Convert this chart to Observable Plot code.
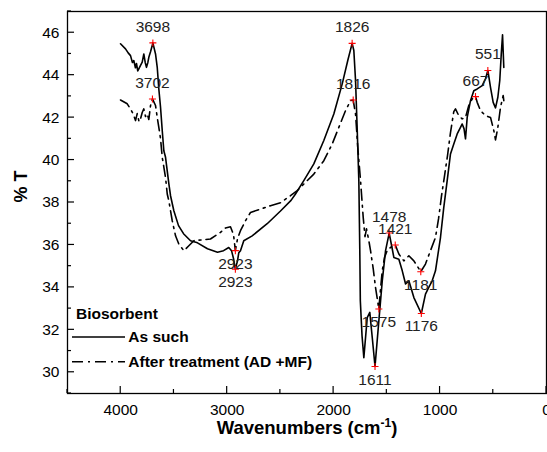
<!DOCTYPE html>
<html><head><meta charset="utf-8">
<script src="https://cdn.jsdelivr.net/npm/d3@7"></script>
<script src="https://cdn.jsdelivr.net/npm/@observablehq/plot@0.6"></script>
<style>
body{margin:0;background:#fff;}
#chart{position:relative;width:547px;height:452px;overflow:hidden;}
</style></head><body><div id="chart"></div>
<script>
// "As such" biosorbent spectrum (wavenumber cm-1, %T)
const wnAsSuch = [4002,3955,3930,3908,3890,3877,3862,3852,3840,3830,3815,3798,3783,3770,3758,3745,3736,3720,3704,3698,3673,3657,3642,3626,3610,3595,3579,3548,3532,3501,3457,3410,3344,3279,3185,3091,3034,2985,2959,2940,2923,2903,2891,2875,2844,2765,2624,2499,2400,2358,2280,2186,2092,1998,1919,1867,1826,1810,1794,1778,1763,1754,1749,1733,1716,1684,1660,1637,1611,1575,1543,1512,1478,1449,1434,1387,1355,1324,1293,1246,1176,1137,1106,1074,1043,996,965,933,902,871,839,808,792,775,761,745,714,683,651,604,573,551,526,501,479,457,439,425,413,401];
const tAsSuch = [45.48,45.24,45.05,44.92,44.60,44.69,44.35,44.55,44.20,44.30,44.45,44.61,45.0,44.6,44.37,44.6,44.84,45.1,45.40,45.52,45.0,44.37,43.35,42.49,41.39,40.44,40.13,38.89,38.32,37.61,36.91,36.53,36.2,36.10,35.82,35.66,35.73,35.88,35.73,35.35,34.86,35.25,35.63,35.73,36.2,36.43,37.0,37.6,38.1,38.4,39.03,39.82,40.92,42.17,43.59,44.69,45.5,45.16,43.75,41.39,39.03,35.73,33.37,31.72,30.69,32.58,32.82,31.64,30.27,32.42,34.31,35.73,36.56,35.81,35.41,35.33,34.78,34.16,34.31,33.52,32.77,33.68,34.0,34.31,34.78,36.35,37.77,39.03,40.29,40.76,41.23,41.54,41.70,41.48,41.0,42.01,42.80,43.27,43.35,43.51,43.83,44.22,43.43,42.72,42.46,42.96,43.75,45.0,45.9,44.36];

// "After treatment (AD +MF)" spectrum
const wnAfter = [4002,3939,3908,3880,3861,3845,3828,3814,3798,3783,3767,3751,3736,3720,3702,3673,3657,3642,3626,3610,3579,3563,3548,3516,3485,3454,3407,3360,3313,3219,3157,3063,3016,2969,2940,2923,2903,2875,2828,2781,2687,2593,2499,2405,2342,2280,2186,2092,2013,1951,1888,1841,1816,1794,1773,1747,1722,1705,1691,1669,1653,1628,1606,1575,1559,1543,1522,1497,1466,1421,1387,1340,1293,1246,1181,1137,1090,1043,1014,986,958,930,902,871,855,824,792,761,730,698,667,651,620,573,526,495,479,457,432,407,401];
const tAfter = [42.83,42.65,42.41,42.14,41.86,42.19,41.81,41.94,42.24,42.41,42.05,42.17,41.91,42.57,42.88,42.57,42.01,41.54,41.01,40.13,39.18,38.4,38.08,37.14,36.43,36.04,35.73,35.96,36.2,36.25,36.28,36.59,36.80,36.86,36.48,35.73,36.29,36.67,37.14,37.53,37.69,37.85,37.99,38.32,38.56,38.87,39.34,39.97,40.76,41.54,42.33,42.80,42.83,42.17,40.60,39.03,37.30,36.39,36.76,36.2,35.73,34.88,33.99,32.98,33.93,34.78,35.41,35.73,35.88,36.0,35.57,35.25,35.49,35.25,34.74,35.10,35.73,36.35,37.24,38.32,39.26,40.21,41.29,42.28,42.41,42.09,41.94,42.01,42.57,42.88,42.99,42.72,42.33,42.09,42.01,41.39,40.95,41.54,42.49,43.04,42.80];

// labelled peaks
const peakWnAsSuch = [3698, 2923, 1826, 1611, 1478, 1176, 551];
const peakTAsSuch = [45.52, 34.86, 45.5, 30.27, 36.56, 32.77, 44.22];
const peakSideAsSuch = ["above","below","above","below","above","below","above"];
const peakWnAfter = [3702, 2923, 1816, 1575, 1421, 1181, 667];
const peakTAfter = [42.88, 35.73, 42.83, 32.98, 36.0, 34.74, 42.99];
const peakSideAfter = ["above","below","above","below","above","below","above"];

const seriesNames = ["As such", "After treatment (AD +MF)"];
const legendTitle = "Biosorbent";
const xMajorTicks = [4000, 3000, 2000, 1000, 0];
const xMinorTicks = [4500, 3500, 2500, 1500, 500];
const yMajorTicks = [30, 32, 34, 36, 38, 40, 42, 44, 46];
const yMinorTicks = [29, 31, 33, 35, 37, 39, 41, 43, 45, 47];
const xTitle = "Wavenumbers (cm-1)";
const yTitle = "% T";

const FONT = "'Liberation Sans', Arial, Helvetica, sans-serif";

const rows = [
  ...wnAsSuch.map((w, i) => ({wn: w, t: tAsSuch[i], series: seriesNames[0]})),
  ...wnAfter.map((w, i) => ({wn: w, t: tAfter[i], series: seriesNames[1]}))
];
const peaks = [
  ...peakWnAsSuch.map((w, i) => ({wn: w, t: peakTAsSuch[i], side: peakSideAsSuch[i]})),
  ...peakWnAfter.map((w, i) => ({wn: w, t: peakTAfter[i], side: peakSideAfter[i]}))
];

const W = 547, H = 452, ML = 67, MR = 1, MT = 11, MB = 59;

const plot = Plot.plot({
  width: W, height: H,
  marginLeft: ML, marginRight: MR, marginTop: MT, marginBottom: MB,
  style: {fontFamily: FONT, fontSize: "15.5px", color: "black", background: "white"},
  x: {domain: [4500, 0], label: null},
  y: {domain: [29, 47], label: null},
  marks: [
    Plot.axisX(xMajorTicks, {tickSize: 0, tickPadding: 10, tickFormat: d => String(d), label: null}),
    Plot.axisY(yMajorTicks, {tickSize: 0, tickPadding: 8, tickFormat: d => String(d), label: null}),
    Plot.frame({stroke: "black", strokeWidth: 1.3}),
    Plot.line(rows.filter(d => d.series === seriesNames[1]), {x: "wn", y: "t", stroke: "black", strokeWidth: 1.6, strokeDasharray: "11,5,2,5"}),
    Plot.line(rows.filter(d => d.series === seriesNames[0]), {x: "wn", y: "t", stroke: "black", strokeWidth: 1.6}),
    Plot.dot(peaks, {x: "wn", y: "t", symbol: "plus", r: 2.4, stroke: "red", strokeWidth: 1.1}),
    Plot.text(peaks.filter(d => d.side === "above"), {x: "wn", y: "t", text: d => String(d.wn), dy: -16, fill: "#222", fontSize: 15.5}),
    Plot.text(peaks.filter(d => d.side === "below"), {x: "wn", y: "t", text: d => String(d.wn), dy: 13, fill: "#222", fontSize: 15.5}),
    Plot.text([yTitle], {frameAnchor: "left", text: d => d, rotate: -90, dx: -46, fontWeight: "bold", fontSize: 18}),
    Plot.text([xTitle], {frameAnchor: "bottom", text: d => d, dy: 40, fontWeight: "bold", fontSize: 18.5})
  ]
});

const svg = d3.select(plot);
const xs = plot.scale("x"), ys = plot.scale("y");

// inward ticks, positioned through Plot's own scales
const tg = svg.append("g").attr("stroke", "black").attr("stroke-width", 1.2);
const yBottom = H - MB, xLeft = ML;
[[xMajorTicks, 7], [xMinorTicks, 4]].forEach(([ticks, len]) => ticks.forEach(v => {
  const x = xs.apply(v);
  tg.append("line").attr("x1", x).attr("x2", x).attr("y1", yBottom).attr("y2", yBottom - len);
}));
[[yMajorTicks, 7], [yMinorTicks, 4]].forEach(([ticks, len]) => ticks.forEach(v => {
  const y = ys.apply(v);
  tg.append("line").attr("x1", xLeft).attr("x2", xLeft + len).attr("y1", y).attr("y2", y);
}));

// superscript for the x title
svg.selectAll("text").filter(function() { return this.textContent === xTitle; }).each(function() {
  const t = d3.select(this);
  t.text(null);
  t.append("tspan").text("Wavenumbers (cm");
  t.append("tspan").attr("dy", -7).attr("font-size", "12px").text("-1");
  t.append("tspan").attr("dy", 7).text(")");
});

// legend
const lg = svg.append("g").attr("font-family", FONT).attr("font-weight", "bold").attr("font-size", "15.5px").attr("text-anchor", "start");
lg.append("text").attr("x", 76).attr("y", 314).attr("dy", "0.35em").text(legendTitle);
seriesNames.forEach((name, i) => {
  const y = 337 + i * 24.7;
  lg.append("line").attr("x1", 72).attr("x2", 125).attr("y1", y).attr("y2", y)
    .attr("stroke", "black").attr("stroke-width", 1.6)
    .attr("stroke-dasharray", i ? "11,5,2,5" : null);
  lg.append("text").attr("x", 128.3).attr("y", y).attr("dy", "0.35em").text(name);
});

document.getElementById("chart").appendChild(plot);
</script></body></html>
